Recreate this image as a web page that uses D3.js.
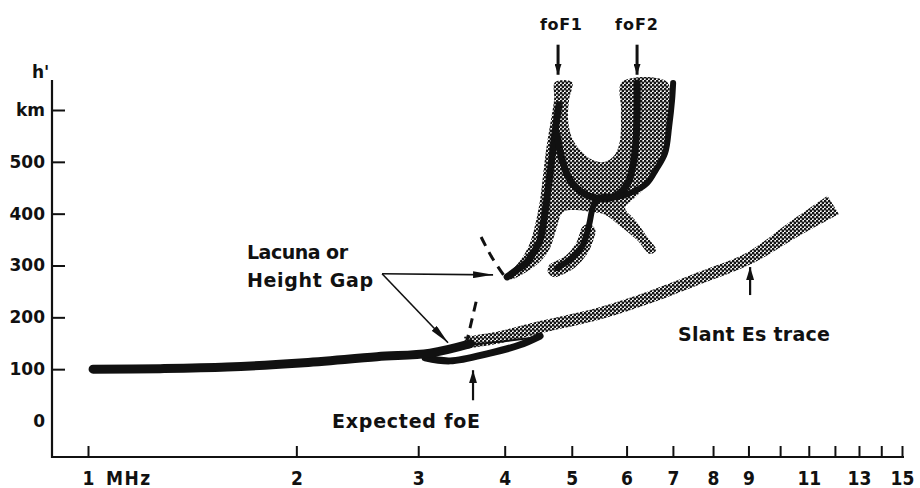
<!DOCTYPE html>
<html>
<head>
<meta charset="utf-8">
<script src="https://cdn.jsdelivr.net/npm/d3@7"></script>
<style>
  body { margin: 0; background: #fff; }
  text { font-family: "DejaVu Sans", sans-serif; font-weight: bold; fill: #111; }
  .xaxis text { font-family: "DejaVu Sans Condensed", "DejaVu Sans", sans-serif; font-stretch: condensed; }
</style>
</head>
<body>
<svg id="chart" width="920" height="488"></svg>
<script>
// axis values
var freqTicks = [1,2,3,4,5,6,7,8,9,10,11,12,13,14,15];
var freqLabels = ["1","2","3","4","5","6","7","8","9","","11","","13","","15"];
var heightTicks = [0,100,200,300,400,500,600];
var heightLabels = ["0","100","200","300","400","500","km"];

// traces, [frequency MHz, virtual height km]
var eTrace = [[1.017,100],[1.271,101],[1.588,104],[2.025,112],[2.616,124],[3.12,131],[3.565,149]];
var eLoop = [[3.069,122],[3.336,116],[3.81,131],[4.211,147],[4.5,164]];
var eLoopTop = [[3.39,145],[3.81,151],[4.352,160]];
var slantEs = [[3.506,151],[3.939,162],[4.5,181],[5.495,208],[6.487,239],[7.66,276],[9.05,315],[10.44,369],[11.93,417]];
var f1Trace = [[4.033,278],[4.169,292],[4.309,307],[4.426,330],[4.5,349],[4.575,403],[4.62,446],[4.668,494],[4.715,542],[4.762,587],[4.793,610]];
var f2Trace = [[4.762,552],[4.842,504],[4.971,465],[5.191,440],[5.495,429],[5.774,434],[6.009,456],[6.13,494],[6.192,542],[6.213,600],[6.213,652]];
var xTrace = [[4.762,295],[5.004,315],[5.191,340],[5.296,378],[5.384,417],[5.532,432],[5.813,432],[6.13,442],[6.423,459],[6.618,485],[6.82,517],[6.913,568],[6.981,620],[7.005,652]];
var xGray = [[4.73,292],[4.971,307],[5.174,334],[5.278,365]];
var fGray = [[4.006,276],[4.10,291],[4.24,315],[4.352,344],[4.426,378],[4.50,427],[4.545,475],[4.59,523],[4.652,571],[4.715,620],[4.73,654],
  [5.004,654],[4.956,620],[4.939,581],[5.004,546],[5.14,523],[5.35,504],[5.587,500],[5.774,514],[5.871,542],[5.89,600],[5.91,654],
  [6.866,654],[6.89,600],[6.843,542],[6.73,498],[6.487,461],[6.171,431],[5.97,411],[6.171,388],[6.444,353],[6.618,330],[6.487,322],
  [6.213,349],[5.871,376],[5.587,398],[5.35,403],[5.055,407],[4.858,403],[4.746,369],[4.652,334],[4.5,307],[4.281,286],[4.10,274]];
var dashUpper = [[3.698,355],[3.836,315],[3.993,280]];
var dashLower = [[3.637,230],[3.53,156]];

// annotation arrows [from, to]
var lacunaArrows = [[[2.66,284],[3.848,282]], [[2.66,284],[3.313,151]]];
var foeArrow = [[3.6,40],[3.6,98]];
var slantArrow = [[9.05,243],[9.05,297]];
var foF1Arrow = [[4.777,726],[4.777,668]];
var foF2Arrow = [[6.213,726],[6.213,668]];

var svg = d3.select("#chart");
var x = d3.scaleLog().domain([1,15]).range([88,902]);
var y = d3.scaleLinear().domain([0,600]).range([421,110]);
var AXIS_X = 52, AXIS_Y = 457, AXIS_TOP = 80;
var ink = "#111";

var defs = svg.append("defs");
var pat = defs.append("pattern").attr("id","stip")
  .attr("patternUnits","userSpaceOnUse").attr("width",4).attr("height",4);
pat.append("circle").attr("cx",1).attr("cy",1).attr("r",1.45).attr("fill","#151515");
pat.append("circle").attr("cx",3).attr("cy",3).attr("r",1.45).attr("fill","#151515");

function marker(id, len, wid){
  defs.append("marker").attr("id",id).attr("markerUnits","userSpaceOnUse")
    .attr("markerWidth",len).attr("markerHeight",wid)
    .attr("refX",len).attr("refY",wid/2).attr("orient","auto")
    .append("path").attr("d","M0,0L"+len+","+(wid/2)+"L0,"+wid+"Z").attr("fill",ink);
}
marker("longHead", 20, 7);
marker("head", 13, 8);
marker("smallHead", 11, 7);

var line = d3.line().x(function(d){return x(d[0]);}).y(function(d){return y(d[1]);})
  .curve(d3.curveCatmullRom.alpha(0.5));
var straight = d3.line().x(function(d){return x(d[0]);}).y(function(d){return y(d[1]);});

// band of varying width round a centre line
function band(pts, widthFn){
  var p = pts.map(function(d){return [x(d[0]), y(d[1])];});
  var left = [], right = [];
  p.forEach(function(q,i){
    var a = p[Math.max(0,i-1)], b = p[Math.min(p.length-1,i+1)];
    var dx = b[0]-a[0], dy = b[1]-a[1], L = Math.hypot(dx,dy);
    var nx = -dy/L, ny = dx/L, w = widthFn(pts[i])/2;
    left.push([q[0]+nx*w, q[1]+ny*w]);
    right.push([q[0]-nx*w, q[1]-ny*w]);
  });
  var pl = d3.line().curve(d3.curveCatmullRom);
  return pl(left) + pl(right.reverse()).replace("M","L") + "Z";
}

// axes
var xAxis = d3.axisBottom(x).tickValues(freqTicks)
  .tickFormat(function(d){return freqLabels[freqTicks.indexOf(d)];})
  .tickSizeInner(-11).tickSizeOuter(0).tickPadding(15);
var gx = svg.append("g").attr("class","xaxis").attr("transform","translate(0,"+AXIS_Y+")").call(xAxis);
gx.select(".domain").remove();
gx.selectAll("line").attr("stroke",ink).attr("stroke-width",2);
gx.selectAll("text").attr("font-size",19).attr("fill",ink);
gx.append("text").attr("x",x(1)+18).attr("y",15).attr("dy","0.71em")
  .attr("font-size",19).attr("text-anchor","start").attr("letter-spacing",1.5).text("MHz");

var yAxis = d3.axisLeft(y).tickValues(heightTicks)
  .tickFormat(function(d){return heightLabels[heightTicks.indexOf(d)];})
  .tickSizeInner(-13).tickSizeOuter(0).tickPadding(7);
var gy = svg.append("g").attr("transform","translate("+AXIS_X+",0)").call(yAxis);
gy.select(".domain").remove();
gy.selectAll("line").attr("stroke",ink).attr("stroke-width",2);
gy.selectAll(".tick").filter(function(d){return d === 0;}).select("line").remove();
gy.selectAll("text").attr("font-size",17).attr("fill",ink);
svg.append("text").attr("x",32).attr("y",78).attr("font-size",17).text("h'");

svg.append("line").attr("x1",AXIS_X).attr("x2",AXIS_X).attr("y1",AXIS_TOP).attr("y2",AXIS_Y+1)
  .attr("stroke",ink).attr("stroke-width",2.2);
svg.append("line").attr("x1",AXIS_X-1).attr("x2",x(15)+2).attr("y1",AXIS_Y).attr("y2",AXIS_Y)
  .attr("stroke",ink).attr("stroke-width",2.2);

// stippled regions
svg.append("path").attr("d", d3.line().x(function(d){return x(d[0]);}).y(function(d){return y(d[1]);})
    .curve(d3.curveCatmullRomClosed.alpha(0.5))(fGray))
  .attr("fill","url(#stip)");
svg.append("path").attr("d", line(xGray)).attr("fill","none")
  .attr("stroke","url(#stip)").attr("stroke-width",15).attr("stroke-linecap","round");
svg.append("path").attr("d", band(slantEs, function(d){ return 12 + Math.max(0,(d[0]-9))*3.3; }))
  .attr("fill","url(#stip)");

// black traces
svg.append("path").attr("d", line(eLoop)).attr("fill","none").attr("stroke",ink)
  .attr("stroke-width",7).attr("stroke-linecap","round");
svg.append("path").attr("d", line(eLoopTop)).attr("fill","none").attr("stroke",ink)
  .attr("stroke-width",2);
svg.append("path").attr("d", line(eTrace)).attr("fill","none").attr("stroke",ink)
  .attr("stroke-width",9).attr("stroke-linecap","round");
[f1Trace, f2Trace, xTrace].forEach(function(t, i){
  svg.append("path").attr("d", line(t)).attr("fill","none").attr("stroke",ink)
    .attr("stroke-width", i === 2 ? 6 : 7).attr("stroke-linecap","round");
});

// dashed continuations
[dashUpper, dashLower].forEach(function(t){
  svg.append("path").attr("d", line(t)).attr("fill","none").attr("stroke",ink)
    .attr("stroke-width",3).attr("stroke-dasharray","10,7");
});

// arrows
lacunaArrows.forEach(function(a){
  svg.append("path").attr("d", straight(a)).attr("stroke",ink).attr("stroke-width",1.6)
    .attr("marker-end","url(#longHead)");
});
[foeArrow, slantArrow].forEach(function(a){
  svg.append("path").attr("d", straight(a)).attr("stroke",ink).attr("stroke-width",2.2)
    .attr("marker-end","url(#head)");
});
[foF1Arrow, foF2Arrow].forEach(function(a){
  svg.append("path").attr("d", straight(a)).attr("stroke",ink).attr("stroke-width",3)
    .attr("marker-end","url(#smallHead)");
});

// labels
function label(txt, px, py, size, len){
  svg.append("text").attr("x",px).attr("y",py).attr("font-size",size)
    .attr("textLength",len).attr("lengthAdjust","spacing").text(txt);
}
label("Lacuna or", 247, 259, 19, 101);
label("Height Gap", 247, 287, 19, 126);
label("Expected foE", 332, 428, 19, 148);
label("Slant Es trace", 678, 341, 19, 152);
label("foF1", 540, 30, 16, 42);
label("foF2", 615, 30, 16, 43);
</script>
</body>
</html>
